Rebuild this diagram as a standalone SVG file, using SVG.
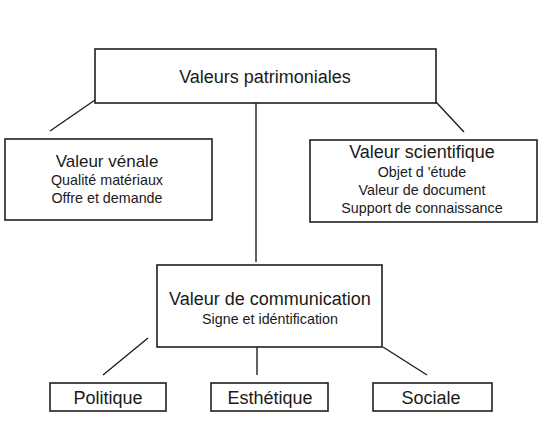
<svg xmlns="http://www.w3.org/2000/svg" width="539" height="429" viewBox="0 0 539 429">
<style>
.box{fill:#ffffff;stroke:#1e1e1e;stroke-width:1.6}
.ln{stroke:#1e1e1e;stroke-width:1.4;fill:none}
text{font-family:"Liberation Sans",Arial,sans-serif;fill:#1a1a1a;text-anchor:middle}
.big{font-size:18px}
.sm{font-size:14.3px}
</style>
<rect width="539" height="429" fill="#ffffff"/>
<g id="connectors">
<line class="ln" x1="95" y1="100" x2="50" y2="131"/>
<line class="ln" x1="436" y1="102" x2="464" y2="132"/>
<line class="ln" x1="256" y1="103" x2="256" y2="262"/>
<line class="ln" x1="148" y1="338" x2="103" y2="375"/>
<line class="ln" x1="257" y1="347" x2="257" y2="375"/>
<line class="ln" x1="383" y1="347" x2="427" y2="375"/>
</g>
<g id="top">
<rect class="box" x="95" y="49" width="341" height="54"/>
<text class="big" x="265" y="83">Valeurs patrimoniales</text>
</g>
<g id="venale">
<rect class="box" x="5" y="139" width="207" height="81"/>
<text x="107" y="167" style="font-size:17px">Valeur vénale</text>
<text class="sm" x="107" y="185">Qualité matériaux</text>
<text class="sm" x="107" y="203">Offre et demande</text>
</g>
<g id="scientifique">
<rect class="box" x="310" y="140" width="227" height="82"/>
<text class="big" x="422" y="158">Valeur scientifique</text>
<text class="sm" x="422" y="177">Objet d 'étude</text>
<text class="sm" x="422" y="195">Valeur de document</text>
<text class="sm" x="422" y="213">Support de connaissance</text>
</g>
<g id="communication">
<rect class="box" x="157" y="265" width="225" height="82"/>
<text class="big" x="270" y="305">Valeur de communication</text>
<text class="sm" x="270" y="324">Signe et idéntification</text>
</g>
<g id="politique">
<rect class="box" x="50" y="383" width="116" height="28"/>
<text class="big" x="108" y="404">Politique</text>
</g>
<g id="esthetique">
<rect class="box" x="211" y="383" width="117" height="28"/>
<text class="big" x="270" y="404">Esthétique</text>
</g>
<g id="sociale">
<rect class="box" x="373" y="383" width="119" height="28"/>
<text class="big" x="431" y="404">Sociale</text>
</g>
</svg>
